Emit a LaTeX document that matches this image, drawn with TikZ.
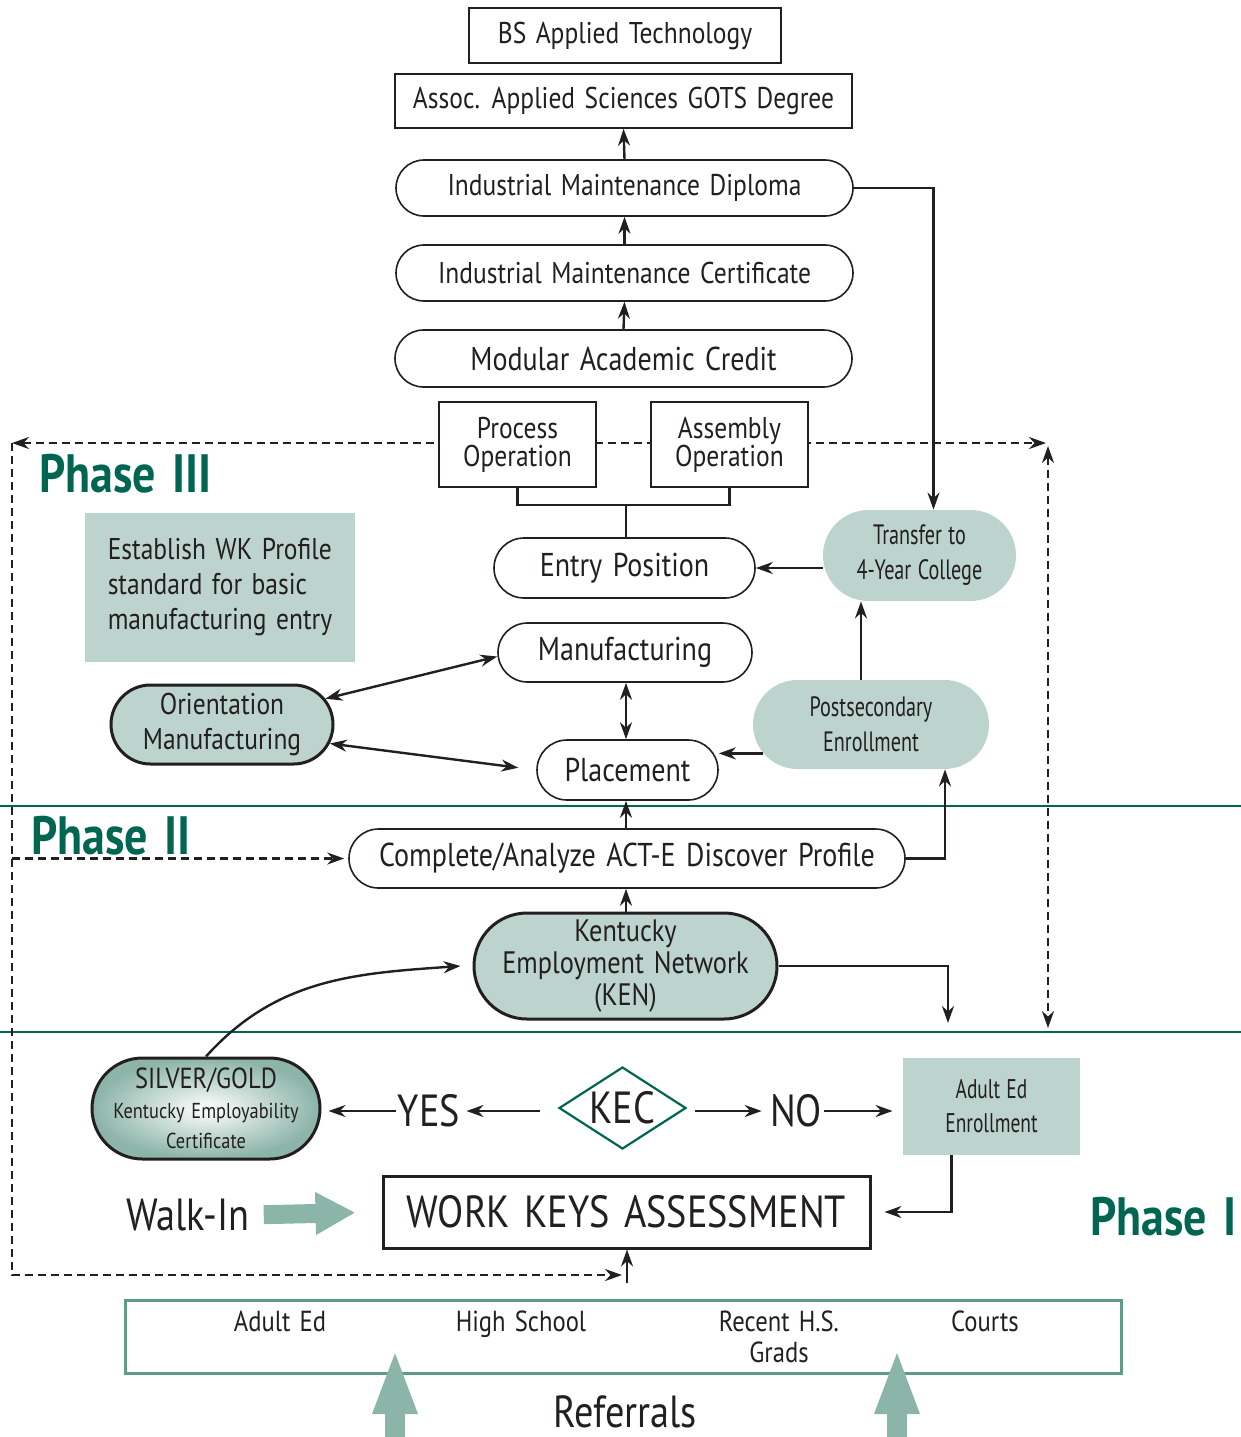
\documentclass[tikz,border=0pt]{standalone}
\usepackage{fontspec}
\setmainfont{PT Sans}[FakeStretch=0.85,WordSpace=1.4]
\newfontfamily\narrowfont{PT Sans}[FakeStretch=0.72,WordSpace=1.2]
\usetikzlibrary{positioning,arrows.meta,shapes.misc,shapes.geometric}

\definecolor{phasegreen}{RGB}{0,102,82}
\definecolor{paleteal}{RGB}{188,212,205}
\definecolor{walkteal}{RGB}{138,181,168}
\definecolor{refteal}{RGB}{95,155,135}
\definecolor{silverteal}{RGB}{140,180,168}
\definecolor{inkgray}{RGB}{35,31,32}

\newcommand{\fsz}[1]{\fontsize{#1}{1.2\dimexpr#1pt\relax}\selectfont}

\begin{document}
\begin{tikzpicture}[
  x=0.5pt, y=-0.5pt,
  >={Stealth[length=8.5pt,width=6pt]},
  every node/.style={text=inkgray, font=\fsz{15}, inner sep=0pt},
  plain-box/.style={draw=inkgray, line width=0.8pt, fill=white, rectangle},
  round-box/.style={draw=inkgray, line width=0.8pt, fill=white, rounded rectangle},
  pale-box/.style={fill=paleteal, rectangle},
  pale-round/.style={fill=paleteal, rounded rectangle},
  bold-round/.style={pale-round, draw=inkgray, line width=1.5pt},
  conn/.style={draw=inkgray, line width=1.2pt, ->},
  link/.style={draw=inkgray, line width=1.2pt},
  dash-emph/.style={draw=inkgray, line width=1.1pt, dash pattern=on 4pt off 2.5pt},
  sep-line/.style={draw=phasegreen, line width=1.4pt},
  phase-label/.style={text=phasegreen, font=\fsz{27}\bfseries},
  big-word/.style={font=\fsz{22.5}},
  ref-word/.style={font=\fsz{14.5}, anchor=base},
  block-arrow/.style={draw=walkteal, line width=9.5pt, -{Triangle[length=20pt,width=20pt]}},
  ref-arrow/.style={draw=walkteal, line width=10pt, -{Triangle[length=33pt,width=20pt]}},
  ]

  \useasboundingbox (0,0) rectangle (1241,1437);

  \coordinate (dash-nw) at (12,443);
  \coordinate (dash-ne) at (1046,443);
  \coordinate (dash-ne-low) at (1048,446);
  \coordinate (dash-se) at (1048,1028);
  \coordinate (dash-sw) at (12,1275);
  \coordinate (dash-end) at (622,1275);
  \coordinate (wk-feed) at (627,1283);
  \coordinate (ken-drop) at (948,1023);
  \coordinate (op-join) at (626,505);

  \draw [sep-line] (0,806) -- (1241,806);
  \draw [sep-line] (0,1032) -- (1241,1032);

  \draw [dash-emph,<->] (dash-nw) -- (dash-ne);
  \draw [dash-emph,<->] (dash-ne-low) -- (dash-se);
  \draw [dash-emph,->] (dash-nw) -- (dash-sw) -- (dash-end);

  % Phase III
  \node [plain-box, minimum width=156pt, minimum height=27.5pt] (bs-tech) at (625,35.5) {BS Applied Technology};
  \node [plain-box, minimum width=228.5pt, minimum height=27pt] (aas-degree) at (623.5,101) {Assoc. Applied Sciences GOTS Degree};
  \node [round-box, minimum width=228.5pt, minimum height=28pt] (im-diploma) at (624.5,188) {Industrial Maintenance Diploma};
  \node [round-box, minimum width=228.5pt, minimum height=28pt] (im-cert) at (624.5,273) {Industrial Maintenance Certificate};
  \node [round-box, minimum width=228.5pt, minimum height=28.5pt, font=\fsz{16.5}] (mod-credit) at (623.5,358.5) {Modular Academic Credit};
  \node [plain-box, minimum width=78.5pt, minimum height=42.5pt, align=center, font=\fontsize{15}{14}\selectfont] (process-op) at (517.5,444.5) {Process\\Operation};
  \node [plain-box, minimum width=78.5pt, minimum height=42.5pt, align=center, font=\fontsize{15}{14}\selectfont] (assembly-op) at (729.5,444.5) {Assembly\\Operation};
  \node [round-box, minimum width=130.5pt, minimum height=30pt, font=\fsz{16.5}] (entry-pos) at (624.5,568) {Entry Position};
  \node [round-box, minimum width=127pt, minimum height=29.5pt, font=\fsz{16.5}] (manuf) at (625,652.5) {Manufacturing};
  \node [round-box, minimum width=90.5pt, minimum height=30pt, font=\fsz{16.5}] (placement) at (627.5,770) {Placement};
  \node [pale-box, minimum width=135pt, minimum height=74.5pt, align=left, font=\fontsize{15}{17.5}\selectfont] (wk-profile) at (220,587.5) {Establish WK Profile\\standard for basic\\manufacturing entry};
  \node [bold-round, minimum width=111pt, minimum height=39.5pt, align=center, font=\fontsize{15}{17.5}\selectfont] (orient) at (222,724.5) {Orientation\\Manufacturing};
  \node [pale-round, minimum width=96.5pt, minimum height=45.5pt, align=center, font=\fontsize{14}{17.5}\selectfont\narrowfont] (transfer) at (919.5,555.5) {Transfer to\\4-Year College};
  \node [pale-round, minimum width=118pt, minimum height=44.5pt, align=center, font=\fontsize{14}{17.5}\selectfont\narrowfont] (postsec) at (871,724.5) {Postsecondary\\Enrollment};
  \node [phase-label, anchor=west] (phase-three) at (39,474) {Phase III};

  % Phase II
  \node [round-box, minimum width=278pt, minimum height=29.5pt, font=\fsz{16.5}] (act-profile) at (627,858.5) {Complete/Analyze ACT-E Discover Profile};
  \node [bold-round, minimum width=151.5pt, minimum height=53pt, align=center, font=\fontsize{15.5}{16}\selectfont] (ken) at (625.5,966) {Kentucky\\Employment Network\\(KEN)};
  \node [phase-label, anchor=west] (phase-two) at (31,836) {Phase II};

  % Phase I
  \node [rounded rectangle, draw=inkgray, line width=1.5pt, shading=radial, inner color=white, outer color=silverteal, minimum width=114pt, minimum height=50.5pt, align=center, font=\fontsize{14.5}{15}\selectfont] (silver-gold) at (206,1108.5) {SILVER/GOLD\\{\fsz{10.8}Kentucky Employability}\\{\fsz{10.8}Certificate}};
  \node [diamond, draw=phasegreen, line width=1.1pt, fill=white, aspect=1.55, minimum width=63.5pt, minimum height=41pt, big-word] (kec) at (622.5,1108) {KEC};
  \node [big-word] (yes-label) at (429,1111) {YES};
  \node [big-word] (no-label) at (796,1111) {NO};
  \node [pale-box, minimum width=88.5pt, minimum height=48.5pt, align=center, font=\fontsize{13.5}{17}\selectfont\narrowfont] (adult-ed) at (991.5,1106.5) {Adult Ed\\Enrollment};
  \node [plain-box, line width=1.5pt, minimum width=243.5pt, minimum height=36pt, big-word] (work-keys) at (626.5,1212) {WORK KEYS ASSESSMENT};
  \node [big-word] (walk-in) at (188,1215) {Walk-In};
  \node [phase-label, anchor=east] (phase-one) at (1237,1217) {Phase I};

  % referrals
  \node [draw=refteal, line width=1.5pt, minimum width=498pt, minimum height=36.5pt] (referral-box) at (623,1336.5) {};
  \node [ref-word] (ref-adult) at (280,1331) {Adult Ed};
  \node [ref-word] (ref-school) at (521,1331) {High School};
  \node [ref-word, anchor=center, font=\fontsize{14.5}{15.5}\selectfont, align=center] (ref-grads) at (779,1337) {Recent H.S.\\Grads};
  \node [ref-word] (ref-courts) at (985,1331) {Courts};
  \node [big-word] (referrals) at (625,1412) {Referrals};
  \coordinate (ref-tail-a) at (395,1445);
  \coordinate (ref-tip-a) at (395,1348);
  \coordinate (ref-tail-b) at (897,1445);
  \coordinate (ref-tip-b) at (897,1348);

  \draw [conn] (mod-credit.north) -- (im-cert.south);
  \draw [conn] (im-cert.north) -- (im-diploma.south);
  \draw [conn] (im-diploma.north) -- (aas-degree.south);
  \draw [conn] (im-diploma.east) -| ([xshift=7pt]transfer.north);
  \draw [link] (process-op.south) |- (op-join) -| (assembly-op.south);
  \draw [link] (op-join) -- (op-join |- entry-pos.north);
  \draw [conn] (transfer.west |- entry-pos) -- (entry-pos.east);
  \draw [conn,<->] (op-join |- manuf.south) -- (op-join |- placement.north);
  \draw [conn,<->] (orient.14) -- ([yshift=-2pt]manuf.west);
  \draw [conn,<->,shorten >=9pt] (orient.-10) -- (placement.west);
  \draw [conn] (postsec.195) -- (postsec.195 -| placement.east);
  \draw [conn] ([xshift=-5pt]postsec.north) -- ([xshift=-5pt]postsec.north |- transfer.south);
  \draw [conn] (act-profile.east) -| ([xshift=37pt]postsec.south);
  \draw [conn] (op-join |- act-profile.north) -- (op-join |- placement.south);
  \draw [dash-emph,->,shorten >=2pt] (dash-nw |- act-profile) -- (act-profile.west);
  \draw [conn] (op-join |- ken.north) -- (op-join |- act-profile.south);
  \draw [conn] (ken.east) -| (ken-drop);
  \draw [conn] (silver-gold.north) to [out=48,in=184] ([xshift=-6pt]ken.west);
  \draw [conn,shorten <=9pt,shorten >=3pt] (kec.west |- yes-label) -- (yes-label.east);
  \draw [conn,shorten <=1pt,shorten >=3.5pt] (yes-label.west) -- (silver-gold.east |- yes-label);
  \draw [conn,shorten <=4pt,shorten >=4pt] (kec.east |- no-label) -- (no-label.west);
  \draw [conn,shorten <=1pt,shorten >=5pt] (no-label.east) -- (adult-ed.west |- no-label);
  \draw [conn,shorten >=6.5pt] ([xshift=-20pt]adult-ed.south) |- (work-keys.east);
  \draw [conn] (wk-feed) -- (wk-feed |- work-keys.south);
  \draw [block-arrow,shorten <=7pt,shorten >=13pt] (walk-in.east) -- (work-keys.west);
  \draw [ref-arrow] (ref-tail-a) -- (ref-tip-a);
  \draw [ref-arrow] (ref-tail-b) -- (ref-tip-b);

\end{tikzpicture}
\end{document}
